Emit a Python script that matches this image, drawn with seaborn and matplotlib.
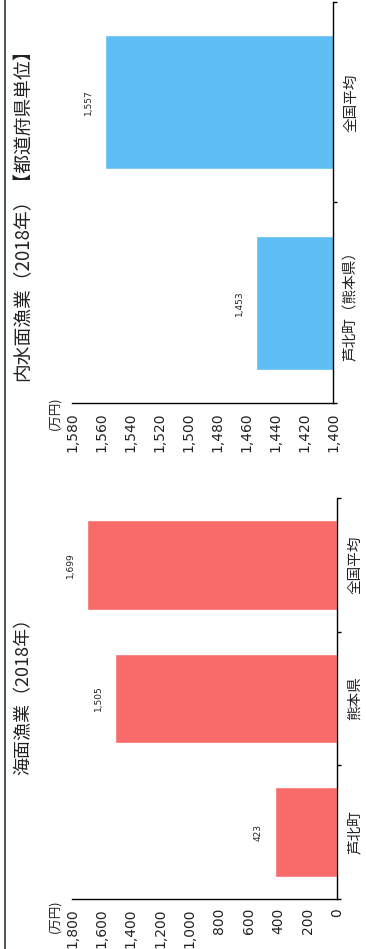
import matplotlib
matplotlib.use("Agg")
import matplotlib.pyplot as plt
from matplotlib.lines import Line2D
from matplotlib.ticker import FixedLocator, FuncFormatter, NullFormatter
import seaborn as sns

# 海面漁業（2018年）: 1経営体あたり漁獲金額
sea_categories = ["芦北町", "熊本県", "全国平均"]
sea_values = [423, 1505, 1699]
sea_ticks = [0, 200, 400, 600, 800, 1000, 1200, 1400, 1600, 1800]

# 内水面漁業（2018年）【都道府県単位】
inland_categories = ["芦北町（熊本県）", "全国平均"]
inland_values = [1453, 1557]
inland_ticks = [1400, 1420, 1440, 1460, 1480, 1500, 1520, 1540, 1560, 1580]

sea_title = "海面漁業（2018年）"
inland_title = "内水面漁業（2018年）【都道府県単位】"
unit_label = "(万円)"

sns.set_style("white")
plt.rcParams["font.family"] = ["Noto Sans CJK JP", "DejaVu Sans"]

W, H = 366, 949
fig = plt.figure(figsize=(W / 100, H / 100), dpi=100)


def px_axes(left, top, right, bottom):
    return fig.add_axes([left / W, 1 - bottom / H, (right - left) / W, (bottom - top) / H])


def draw_panel(ax, cats, vals, ticks, color):
    sns.barplot(x=vals, y=cats, orient="h", color=color, saturation=1,
                width=0.67, errorbar=None, ax=ax)
    n = len(cats)
    # value axis runs right-to-left, categories bottom-to-top
    ax.set_xlim(ticks[-1], ticks[0])
    ax.set_ylim(-0.5, n - 0.5)
    ax.set_xlabel("")
    ax.set_ylabel("")

    ax.xaxis.set_major_locator(FixedLocator(ticks))
    ax.xaxis.set_major_formatter(FuncFormatter(lambda v, p: f"{v:,.0f}"))
    ax.tick_params(axis="x", which="major", direction="out", length=3,
                   width=1, color="black", pad=3.5, labelsize=10,
                   labelrotation=90, labelcolor="#222222")
    for lab in ax.get_xticklabels():
        lab.set_fontfamily("DejaVu Sans")

    # category axis: ticks between categories, labels centred on bars
    ax.yaxis.tick_right()
    ax.yaxis.set_major_locator(FixedLocator([i - 0.5 for i in range(n + 1)]))
    ax.yaxis.set_major_formatter(NullFormatter())
    ax.yaxis.set_minor_locator(FixedLocator(list(range(n))))
    ax.yaxis.set_minor_formatter(FuncFormatter(lambda v, p: cats[int(round(v))]))
    ax.tick_params(axis="y", which="major", direction="out", length=3,
                   width=1, color="black", right=True, left=False)
    ax.tick_params(axis="y", which="minor", length=0, pad=8, labelsize=10.5,
                   labelright=True, labelleft=False, labelcolor="#222222")
    for lab in ax.yaxis.get_minorticklabels():
        lab.set_rotation(90)
        lab.set_verticalalignment("center")
        lab.set_horizontalalignment("left")

    for side in ("top", "left"):
        ax.spines[side].set_visible(False)
    for side in ("bottom", "right"):
        ax.spines[side].set_visible(True)
        ax.spines[side].set_color("black")
        ax.spines[side].set_linewidth(1.0)

    for i, v in enumerate(vals):
        ax.annotate(f"{v:,}", xy=(v, i), xytext=(-12, 0),
                    textcoords="offset points", rotation=90,
                    ha="center", va="center", fontsize=6.5,
                    color="#222222", family="DejaVu Sans")


ax_in = px_axes(72, 2, 333, 403)
draw_panel(ax_in, inland_categories, inland_values, inland_ticks, "#5EBDF2")

ax_sea = px_axes(72, 498, 337, 899)
draw_panel(ax_sea, sea_categories, sea_values, sea_ticks, "#F96B6B")

# panel titles
fig.text(23 / W, 1 - 210 / H, inland_title, rotation=90, ha="center",
         va="center", fontsize=13.5, color="#222222")
fig.text(23 / W, 1 - 692 / H, sea_title, rotation=90, ha="center",
         va="center", fontsize=13, color="#222222")

# unit labels
fig.text(55 / W, 1 - 413 / H, unit_label, rotation=90, ha="center",
         va="center", fontsize=9, color="#222222")
fig.text(55 / W, 1 - 916 / H, unit_label, rotation=90, ha="center",
         va="center", fontsize=9, color="#222222")

# frame rule along the outer edge
fig.add_artist(Line2D([5 / W, 5 / W], [0, 1], transform=fig.transFigure,
                      color="#3b4a3e", linewidth=1.3))

fig.savefig("out.png", dpi=100, facecolor="white")
